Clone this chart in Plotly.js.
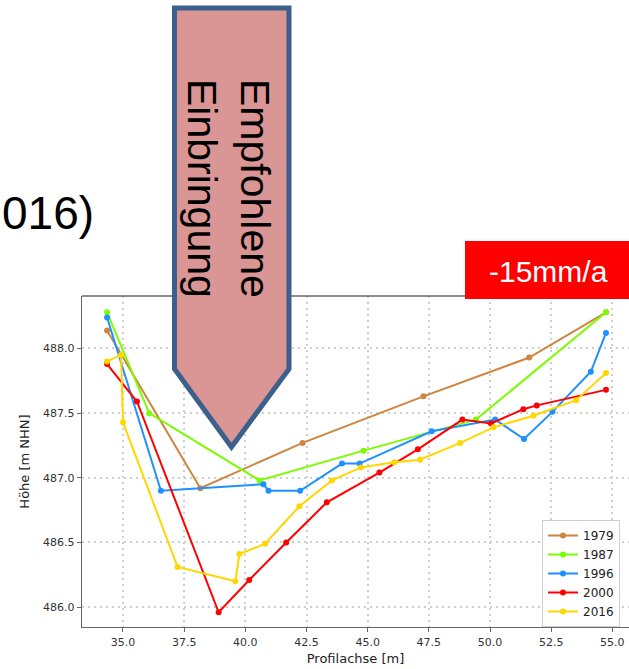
<!DOCTYPE html>
<html>
<head>
<meta charset="utf-8">
<script src="https://cdn.plot.ly/plotly-3.0.1.min.js"></script>
<style>
html,body{margin:0;padding:0;overflow:hidden;background:#fff;}
#chart{width:629px;height:669px;}
</style>
</head>
<body>
<div id="chart"></div>
<script>
// ---- data ----
const years = ["1979", "1987", "1996", "2000", "2016"];
const colors = ["#CD853F", "#7CFC00", "#1E90FF", "#FF0000", "#FFD700"];

const x1979 = [34.35, 38.16, 42.34, 47.28, 51.60, 54.74];
const y1979 = [488.14, 486.92, 487.27, 487.63, 487.93, 488.28];

const x1987 = [34.35, 36.07, 40.58, 44.83, 49.42, 54.74];
const y1987 = [488.28, 487.50, 486.98, 487.21, 487.45, 488.28];

const x1996 = [34.35, 36.55, 40.74, 40.95, 42.24, 43.95, 44.67, 47.62, 50.21, 51.39, 52.55, 54.12, 54.74];
const y1996 = [488.24, 486.90, 486.95, 486.90, 486.90, 487.11, 487.11, 487.36, 487.45, 487.30, 487.51, 487.82, 488.12];

const x2000 = [34.35, 35.57, 38.91, 40.16, 41.67, 43.33, 45.48, 47.05, 48.87, 50.04, 51.36, 51.91, 54.74];
const y2000 = [487.88, 487.59, 485.96, 486.21, 486.50, 486.81, 487.04, 487.22, 487.45, 487.42, 487.53, 487.56, 487.68];

const x2016 = [34.35, 34.92, 35.00, 37.23, 39.59, 39.76, 40.81, 42.21, 43.54, 44.72, 46.09, 47.14, 48.78, 50.14, 51.77, 53.52, 54.74];
const y2016 = [487.90, 487.95, 487.43, 486.31, 486.20, 486.41, 486.49, 486.78, 486.98, 487.08, 487.12, 487.14, 487.27, 487.39, 487.48, 487.60, 487.81];

const xTicks = [35.0, 37.5, 40.0, 42.5, 45.0, 47.5, 50.0, 52.5, 55.0];
const yTicks = [486.0, 486.5, 487.0, 487.5, 488.0];

const xTitle = "Profilachse [m]";
const yTitle = "Höhe [m NHN]";
const arrowText = "Empfohlene<br>Einbringung";
const rateText = "-15mm/a";
const leftText = "016)";

// ---- layout helpers (pixel -> paper) ----
const W = 629, H = 669;
const mL = 82, mR = 0, mT = 296, mB = 42;
const pw = W - mL - mR, ph = H - mT - mB;
const px = v => (v - mL) / pw;
const py = v => (H - mB - v) / ph;

const xs = [x1979, x1987, x1996, x2000, x2016];
const ys = [y1979, y1987, y1996, y2000, y2016];

const traces = years.map((yr, i) => ({
  x: xs[i], y: ys[i], name: yr, type: "scatter", mode: "lines+markers",
  line: {color: colors[i], width: 2},
  marker: {color: colors[i], size: 6}
}));

const arrowPts = [[174.5, 8], [289, 8], [289, 369], [231.5, 447], [174.5, 369]];
const arrowPath = "M" + arrowPts.map(p => px(p[0]).toFixed(5) + "," + py(p[1]).toFixed(5)).join(" L") + " Z";

const tickFont = {family: "DejaVu Sans", size: 11, color: "#333"};
const axisCommon = {
  showline: true, linecolor: "#666", linewidth: 1.3,
  showgrid: true, gridcolor: "#cfcfcf", griddash: "2px,4px", gridwidth: 2,
  zeroline: false, ticks: "outside", ticklen: 4, tickcolor: "#666", tickwidth: 1,
  tickfont: tickFont
};

const layout = {
  width: W, height: H,
  margin: {l: mL, r: mR, t: mT, b: mB, pad: 0},
  paper_bgcolor: "#fff", plot_bgcolor: "#fff",
  showlegend: true,
  legend: {
    x: px(542), y: py(520), xanchor: "left", yanchor: "top",
    bgcolor: "#fff", bordercolor: "#d0d0d0", borderwidth: 1,
    font: {family: "DejaVu Sans", size: 12, color: "#222"},
    tracegroupgap: 0
  },
  xaxis: Object.assign({}, axisCommon, {
    range: [33.325, 55.68], tickvals: xTicks,
    ticktext: xTicks.map(v => v.toFixed(1)),
    title: {text: xTitle, font: {family: "DejaVu Sans", size: 13, color: "#222"}, standoff: 6}
  }),
  yaxis: Object.assign({}, axisCommon, {
    range: [485.846, 488.406], tickvals: yTicks,
    ticktext: yTicks.map(v => v.toFixed(1)),
    title: {text: yTitle, font: {family: "DejaVu Sans", size: 13, color: "#222"}, standoff: 10}
  }),
  shapes: [
    {type: "line", xref: "paper", yref: "paper", x0: 0, x1: 1, y0: 1, y1: 1,
     line: {color: "#666", width: 1.3}},
    {type: "path", xref: "paper", yref: "paper", path: arrowPath, layer: "above",
     fillcolor: "#D99694", line: {color: "#3C5F8C", width: 5}},
    {type: "rect", xref: "paper", yref: "paper", layer: "above",
     x0: px(465), x1: px(640), y0: py(299), y1: py(241),
     fillcolor: "#FF0000", line: {width: 0}}
  ],
  annotations: [
    {text: arrowText, xref: "paper", yref: "paper", x: px(229), y: py(188),
     xanchor: "center", yanchor: "middle", showarrow: false, textangle: 90,
     font: {family: "Liberation Sans", size: 41, color: "#000"}},
    {text: rateText, xref: "paper", yref: "paper", x: px(548), y: py(271),
     xanchor: "center", yanchor: "middle", showarrow: false,
     font: {family: "Liberation Sans", size: 30, color: "#fff"}},
    {text: leftText, xref: "paper", yref: "paper", x: px(0), y: py(213),
     xanchor: "left", yanchor: "middle", showarrow: false,
     font: {family: "Liberation Sans", size: 46, color: "#000"}}
  ]
};

Plotly.newPlot("chart", traces, layout, {displayModeBar: false, staticPlot: true});
</script>
</body>
</html>
